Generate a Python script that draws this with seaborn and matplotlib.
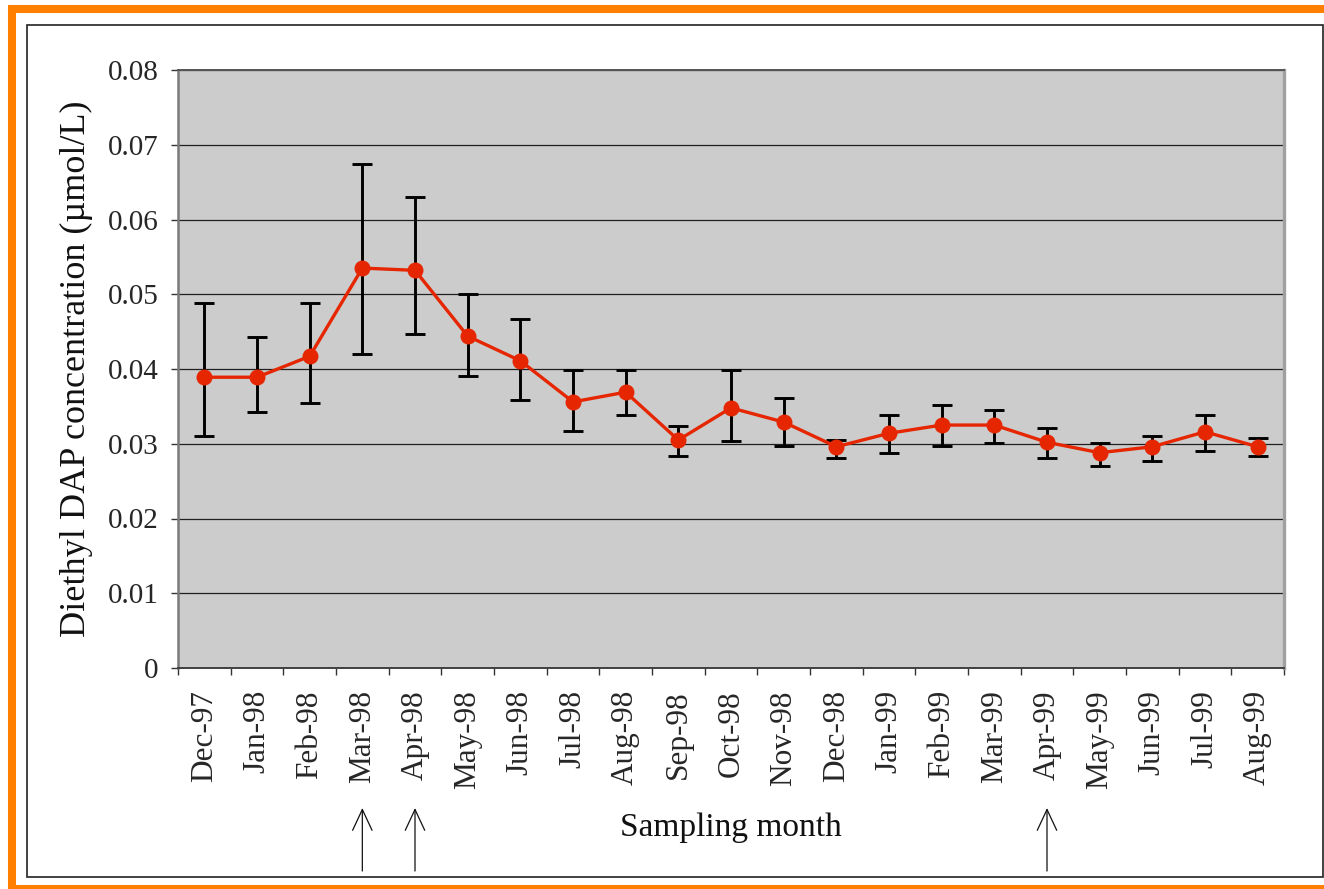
import matplotlib
matplotlib.use("Agg")
import matplotlib.pyplot as plt
import matplotlib.transforms as mtransforms
from matplotlib.patches import Rectangle
import numpy as np
import pandas as pd
import seaborn as sns

months = ["Dec-97", "Jan-98", "Feb-98", "Mar-98", "Apr-98", "May-98", "Jun-98",
          "Jul-98", "Aug-98", "Sep-98", "Oct-98", "Nov-98", "Dec-98", "Jan-99",
          "Feb-99", "Mar-99", "Apr-99", "May-99", "Jun-99", "Jul-99", "Aug-99"]
mean_conc = [0.0389, 0.0389, 0.0417, 0.0535, 0.0532, 0.0444, 0.0411,
             0.0356, 0.0369, 0.0305, 0.0348, 0.0329, 0.0296, 0.0314,
             0.0325, 0.0325, 0.0302, 0.0288, 0.0296, 0.0316, 0.0296]
upper_conc = [0.0488, 0.0443, 0.0488, 0.0674, 0.0630, 0.0500, 0.0467,
              0.0399, 0.0399, 0.0324, 0.0399, 0.0361, 0.0305, 0.0338,
              0.0352, 0.0345, 0.0321, 0.0301, 0.0310, 0.0338, 0.0308]
lower_conc = [0.0311, 0.0342, 0.0355, 0.0420, 0.0447, 0.0390, 0.0359,
              0.0317, 0.0338, 0.0284, 0.0304, 0.0297, 0.0281, 0.0288,
              0.0297, 0.0301, 0.0281, 0.0270, 0.0277, 0.0290, 0.0284]
y_ticks = [0, 0.01, 0.02, 0.03, 0.04, 0.05, 0.06, 0.07, 0.08]
y_tick_labels = ["0", "0.01", "0.02", "0.03", "0.04", "0.05", "0.06", "0.07", "0.08"]
arrow_months = ["Mar-98", "Apr-98", "Apr-99"]

sns.set_theme(style="white")
plt.rcParams["font.family"] = ["Liberation Serif", "DejaVu Serif"]

W, H = 1324, 889
fig = plt.figure(figsize=(W / 100, H / 100), dpi=100)
fig.patch.set_facecolor("white")

# outer orange frame and inner black frame (figure pixels)
def fx(px):
    return px / W

def fy(py):
    return 1 - py / H

fig.patches.append(Rectangle((fx(12), fy(889)), fx(1400) - fx(12), fy(9) - fy(889),
                             transform=fig.transFigure, fill=False,
                             edgecolor="#FF7F00", linewidth=5.8, zorder=0))
fig.patches.append(Rectangle((fx(27), fy(877)), fx(1323) - fx(27), fy(25) - fy(877),
                             transform=fig.transFigure, fill=False,
                             edgecolor="#222222", linewidth=1.2, zorder=0))

ax = fig.add_axes([fx(178), fy(668), fx(1284) - fx(178), fy(70) - fy(668)])
ax.set_facecolor("#CCCCCC")

df = pd.DataFrame({"month": months, "x": np.arange(len(months)),
                   "mean": mean_conc, "upper": upper_conc, "lower": lower_conc})

ax.errorbar(df["x"], df["mean"],
            yerr=[df["mean"] - df["lower"], df["upper"] - df["mean"]],
            fmt="none", ecolor="black", elinewidth=2.1, capsize=7.5,
            capthick=2.1, zorder=3)
sns.lineplot(data=df, x="x", y="mean", sort=False, ax=ax, color="#E52600",
             linewidth=2.4, marker="o", markersize=11.5, markeredgewidth=0,
             zorder=4)

ax.set_xlim(-0.5, len(months) - 0.5)
ax.set_ylim(0, 0.08)
ax.set_yticks(y_ticks)
ax.set_yticklabels(y_tick_labels)
ax.yaxis.grid(True, color="#202020", linewidth=0.9)
ax.set_axisbelow(True)

ax.set_xticks(df["x"])
ax.set_xticklabels(months, rotation=90, fontsize=22.5, va="top", ha="center")
ax.set_xticks(np.arange(-0.5, len(months)), minor=True)
ax.tick_params(axis="x", which="major", length=0, pad=16)
ax.tick_params(axis="x", which="minor", length=5, width=1, color="#333333",
               direction="out", bottom=True)
ax.tick_params(axis="y", which="major", length=5, width=1, color="#333333",
               direction="out", left=True, pad=9, labelsize=21)

ax.set_xlabel("")
ax.set_ylabel("")

for side, col, lw in [("left", "#7a7a7a", 1.8), ("bottom", "#404040", 1.4),
                      ("top", "#555555", 1.4), ("right", "#a0a0a0", 2.4)]:
    ax.spines[side].set_visible(True)
    ax.spines[side].set_color(col)
    ax.spines[side].set_linewidth(lw)

fig.text(fx(76), fy(369), "Diethyl DAP concentration (\u00b5mol/L)", rotation=90,
         ha="center", va="center", fontsize=26, color="#111111")
fig.text(fx(731), fy(836), "Sampling month", ha="center", va="baseline",
         fontsize=24, color="#111111")

trans = mtransforms.blended_transform_factory(ax.transData, fig.transFigure)
for m in arrow_months:
    i = months.index(m)
    ax.annotate("", xy=(i, fy(808)), xytext=(i, fy(871)),
                xycoords=trans, textcoords=trans,
                arrowprops=dict(arrowstyle="->,head_length=15,head_width=7",
                                mutation_scale=1, color="#111111", lw=0.9,
                                shrinkA=0, shrinkB=0),
                annotation_clip=False)

fig.savefig("out.png", dpi=100, facecolor="white")
